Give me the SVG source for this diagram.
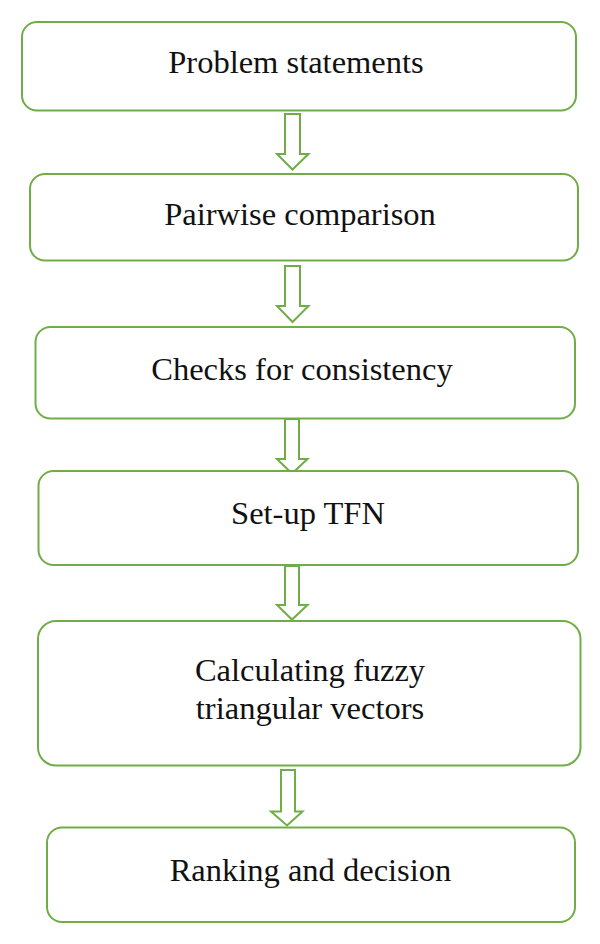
<svg xmlns="http://www.w3.org/2000/svg" width="600" height="944" viewBox="0 0 600 944">
<style>
.box{fill:#fff;stroke:#70ad47;stroke-width:2}
.arr{fill:#fff;stroke:#70ad47;stroke-width:2;stroke-linejoin:miter}
.lbl{font-family:"Liberation Serif","Times New Roman",serif;font-size:32.5px;fill:#111;text-anchor:middle}
</style>
<rect width="600" height="944" fill="#fff"/>
<g id="connectors">
<polygon class="arr" points="285,114 300,114 300,154 308.5,154 292.5,169.5 277,154 285,154"/>
<polygon class="arr" points="285,266 300,266 300,306 308.5,306 292.5,322 277,306 285,306"/>
<polygon class="arr" points="285,419 299,419 299,459 307.5,459 292,473.5 277,459 285,459"/>
<polygon class="arr" points="285,566 299,566 299,605 307.5,605 292,619.5 277,605 285,605"/>
<polygon class="arr" points="281,770 295,770 295,811.5 302.5,811.5 287,825.5 271,811.5 281,811.5"/>
</g>
<g id="n1"><rect class="box" x="22" y="22" width="554" height="88.5" rx="15"/><text class="lbl" x="296" y="73">Problem statements</text></g>
<g id="n2"><rect class="box" x="30" y="174" width="548" height="86.5" rx="15"/><text class="lbl" x="300" y="225">Pairwise comparison</text></g>
<g id="n3"><rect class="box" x="35.5" y="327" width="539.5" height="91.5" rx="15"/><text class="lbl" x="302" y="380">Checks for consistency</text></g>
<g id="n4"><rect class="box" x="38.5" y="471" width="539.5" height="94" rx="15"/><text class="lbl" x="308" y="524">Set-up TFN</text></g>
<g id="n5"><rect class="box" x="38" y="621" width="542.5" height="144.5" rx="18"/><text class="lbl" x="310" y="681">Calculating fuzzy</text><text class="lbl" x="310" y="719">triangular vectors</text></g>
<g id="n6"><rect class="box" x="47" y="827.5" width="528" height="94.5" rx="15"/><text class="lbl" x="310.5" y="881">Ranking and decision</text></g>
</svg>
